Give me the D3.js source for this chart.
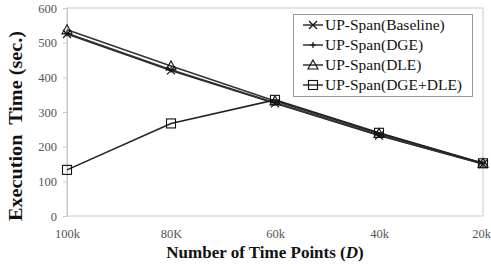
<!DOCTYPE html>
<html><head><meta charset="utf-8">
<script src="https://cdn.jsdelivr.net/npm/d3@7/dist/d3.min.js"></script>
<style>body{margin:0;background:#fff}svg{display:block}
svg text{font-family:"Liberation Serif","Times New Roman","DejaVu Serif",serif !important}</style>
</head><body>
<script>
const categories = ["100k", "80K", "60k", "40k", "20k"];
const seriesNames = ["UP-Span(Baseline)", "UP-Span(DGE)", "UP-Span(DLE)", "UP-Span(DGE+DLE)"];
const baseline = [525, 420, 325, 232, 150];
const dge = [527, 422, 327, 234, 151];
const dle = [537, 433, 332, 238, 152];
const dgeDle = [133, 267, 335, 240, 152];
const yTicks = [0, 100, 200, 300, 400, 500, 600];
const markers = ["x", "plus", "triangle", "square"];
const series = [baseline, dge, dle, dgeDle];

const W = 491, H = 264;
const m = {l: 67, r: 8, t: 8, b: 48};
const svg = d3.select("body").append("svg").attr("width", W).attr("height", H);
const x = d3.scalePoint().domain(categories).range([m.l, W - m.r]);
const y = d3.scaleLinear().domain([0, 600]).range([H - m.b, m.t]);

// plot border
svg.append("rect").attr("x", m.l).attr("y", m.t).attr("width", W - m.r - m.l).attr("height", H - m.b - m.t)
  .attr("fill", "none").attr("stroke", "#c8c8c8").attr("stroke-width", 1);

// y axis
const ya = svg.append("g").attr("transform", `translate(${m.l},0)`)
  .call(d3.axisLeft(y).tickValues(yTicks).tickSize(4).tickPadding(6));
ya.attr("font-family", null);
ya.select(".domain").attr("stroke", "#c8c8c8");
ya.selectAll(".tick line").attr("stroke", "#c8c8c8");
ya.selectAll("text").attr("font-size", 12.5).attr("fill", "#555");

// x axis labels
const xa = svg.append("g").attr("transform", `translate(0,${H - m.b})`)
  .call(d3.axisBottom(x).tickSize(0).tickPadding(13));
xa.attr("font-family", null);
xa.select(".domain").remove();
xa.selectAll("text").attr("font-size", 12.5).attr("fill", "#555")
  .attr("dx", (d, i) => i === categories.length - 1 ? -2 : 0);

// lines
const line = d3.line().x((d, i) => x(categories[i])).y(d => y(d));
const colors = ["#222", "#333", "#333", "#222"];
series.forEach((s, k) => {
  svg.append("path").datum(s).attr("d", line).attr("fill", "none")
    .attr("stroke", colors[k]).attr("stroke-width", 1.6);
});

function drawMarker(g, type, cx, cy) {
  const r = 4;
  if (type === "x") {
    g.append("path").attr("d", `M${cx-r},${cy-r}L${cx+r},${cy+r}M${cx-r},${cy+r}L${cx+r},${cy-r}`)
      .attr("stroke", "#111").attr("stroke-width", 1.2).attr("fill", "none");
  } else if (type === "plus") {
    g.append("path").attr("d", `M${cx-3},${cy}L${cx+3},${cy}M${cx},${cy-3}L${cx},${cy+3}`)
      .attr("stroke", "#111").attr("stroke-width", 1.2).attr("fill", "none");
  } else if (type === "triangle") {
    g.append("path").attr("d", `M${cx},${cy-5}L${cx+5},${cy+4}L${cx-5},${cy+4}Z`)
      .attr("stroke", "#111").attr("stroke-width", 1.1).attr("fill", "none");
  } else {
    g.append("rect").attr("x", cx - 4.5).attr("y", cy - 4.5).attr("width", 9).attr("height", 9)
      .attr("stroke", "#111").attr("stroke-width", 1.1).attr("fill", "none");
  }
}
const mg = svg.append("g");
series.forEach((s, k) => {
  s.forEach((v, i) => drawMarker(mg, markers[k], x(categories[i]), y(v)));
});

// legend
const lg = svg.append("g");
lg.append("rect").attr("x", 293.5).attr("y", 14.5).attr("width", 179).attr("height", 82)
  .attr("fill", "#fff").attr("stroke", "#999").attr("stroke-width", 1);
seriesNames.forEach((n, k) => {
  const ly = 25 + k * 20;
  lg.append("line").attr("x1", 303).attr("x2", 323).attr("y1", ly).attr("y2", ly)
    .attr("stroke", "#111").attr("stroke-width", 1.3);
  drawMarker(lg, markers[k], 313, ly);
  lg.append("text").attr("x", 325).attr("y", ly + 5)
    .attr("font-size", 15.5).attr("fill", "#111").text(n);
});

// axis titles
svg.append("text").attr("x", 265).attr("y", 258).attr("text-anchor", "middle")
  .attr("font-size", 17).attr("font-weight", "bold").attr("fill", "#111")
  .call(t => {
    t.append("tspan").text("Number of Time Points (");
    t.append("tspan").attr("font-style", "italic").text("D");
    t.append("tspan").text(")");
  });
svg.append("text").attr("transform", "translate(22,126) rotate(-90)").attr("text-anchor", "middle")
  .attr("font-size", 18.5).attr("font-weight", "bold").attr("fill", "#111")
  .attr("textLength", 190).attr("lengthAdjust", "spacingAndGlyphs")
  .style("white-space", "pre")
  .text("Execution  Time (sec.)");
</script>
</body></html>
